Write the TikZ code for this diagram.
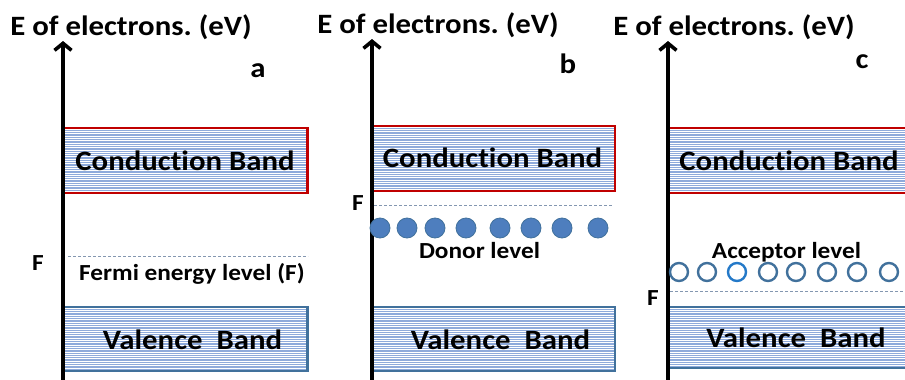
\documentclass[tikz,border=0pt]{standalone}
\usepackage{fontspec}
\setmainfont{Carlito}[FakeStretch=1.1, Ligatures={NoCommon,NoContextual}]
\usetikzlibrary{arrows.meta}
\frenchspacing
\definecolor{stripeblue}{HTML}{8EAADB}
\definecolor{cbred}{HTML}{C00000}
\definecolor{vbblue}{HTML}{41719C}
\definecolor{dotfill}{HTML}{4E7EBE}
\definecolor{holebright}{HTML}{2479C8}
\definecolor{fermidash}{HTML}{8497B0}
\tikzset{
  stripes/.style={fill=stripeblue, path picture={
      \foreach \k in {0,...,34} {
        \draw[white, line width=0.8pt]
          ([yshift=-1.2pt-\k*2.3pt]path picture bounding box.north west) --
          ([yshift=-1.2pt-\k*2.3pt]path picture bounding box.north east);}}},
  cband/.style={stripes, draw=cbred, line width=2.8pt, rectangle, inner sep=0pt},
  vband/.style={stripes, draw=vbblue, line width=2.6pt, rectangle, inner sep=0pt},
  axisline/.style={line width=3.6pt, -{Straight Barb[length=7pt,width=17pt]}},
  bigtxt/.style={font=\fontsize{28}{30}\selectfont\bfseries, inner sep=0pt, anchor=base},
  smalltxt/.style={font=\fontsize{23}{25}\selectfont\bfseries, inner sep=0pt, anchor=base},
  fermiline/.style={draw=fermidash, line width=0.8pt, dash pattern=on 3pt off 2pt},
  donor/.style={circle, fill=dotfill, draw=vbblue, line width=0.8pt, minimum size=20pt, inner sep=0pt},
  acceptor/.style={circle, fill=white, draw=vbblue, line width=2.4pt, minimum size=18pt, inner sep=0pt},
}
\begin{document}
\begin{tikzpicture}[x=1pt,y=-1pt]
\clip (0,0) rectangle (905,380);
\fill[white] (0,0) rectangle (905,380);

% ---------- panel a ----------
\node[cband, minimum width=244pt, minimum height=65pt] (cbA) at (185.5,160.5) {};
\node[vband, minimum width=244pt, minimum height=64pt] (vbA) at (185.5,339) {};
\coordinate (axAbot) at (63,382);
\coordinate (axAtop) at (63,41);
\draw[axisline] (axAbot) -- (axAtop);
\node[bigtxt] (titleA) at (131,35) {E of electrons. (eV)};
\node[bigtxt] (labA) at (258,77) {a};
\node[bigtxt] (cbAtxt) at (185,170) {Conduction Band};
\node[bigtxt] (vbAtxt) at (192.5,349) {Valence\ \ Band};
\coordinate (fA1) at (68,256);
\coordinate (fA2) at (308,256);
\draw[fermiline] (fA1) -- (fA2);
\node[smalltxt] (fAlab) at (38,270) {F};
\node[smalltxt] (fAtxt) at (192,280) {Fermi energy level (F)};

% ---------- panel b ----------
\node[cband, minimum width=244pt, minimum height=65pt] (cbB) at (493,158.5) {};
\node[vband, minimum width=244pt, minimum height=64pt] (vbB) at (493,339) {};
\coordinate (axBbot) at (372,382);
\coordinate (axBtop) at (372,39);
\draw[axisline] (axBbot) -- (axBtop);
\node[bigtxt] (titleB) at (438,33) {E of electrons. (eV)};
\node[bigtxt] (labB) at (568,73) {b};
\node[bigtxt] (cbBtxt) at (492.5,167) {Conduction Band};
\node[bigtxt] (vbBtxt) at (500.5,349) {Valence\ \ Band};
\coordinate (fB1) at (374,205);
\coordinate (fB2) at (612,205);
\draw[fermiline] (fB1) -- (fB2);
\node[smalltxt] (fBlab) at (358,210) {F};
\foreach \x [count=\i] in {380,407,435,466,500,531,562,598}
  \node[donor] (d\i) at (\x,228) {};
\node[smalltxt] (donortxt) at (479.5,258) {Donor level};

% ---------- panel c ----------
\node[cband, minimum width=260pt, minimum height=65pt] (cbC) at (797,160.5) {};
\node[vband, minimum width=260pt, minimum height=61pt] (vbC) at (797,337.5) {};
\coordinate (axCbot) at (668,382);
\coordinate (axCtop) at (668,41);
\draw[axisline] (axCbot) -- (axCtop);
\node[bigtxt] (titleC) at (734,35) {E of electrons. (eV)};
\node[bigtxt] (labC) at (862,68) {c};
\node[bigtxt] (cbCtxt) at (789,170) {Conduction Band};
\node[bigtxt] (vbCtxt) at (796,347) {Valence\ \ Band};
\coordinate (fC1) at (670,291);
\coordinate (fC2) at (905,291);
\draw[fermiline] (fC1) -- (fC2);
\node[smalltxt] (fClab) at (653,305) {F};
\foreach \x/\col [count=\i] in {679/vbblue,707/vbblue,737/holebright,768/vbblue,796/vbblue,827/vbblue,857/vbblue,889/vbblue}
  \node[acceptor, draw=\col] (h\i) at (\x,272) {};
\node[smalltxt] (acctxt) at (786.5,258) {Acceptor level};
\end{tikzpicture}
\end{document}
